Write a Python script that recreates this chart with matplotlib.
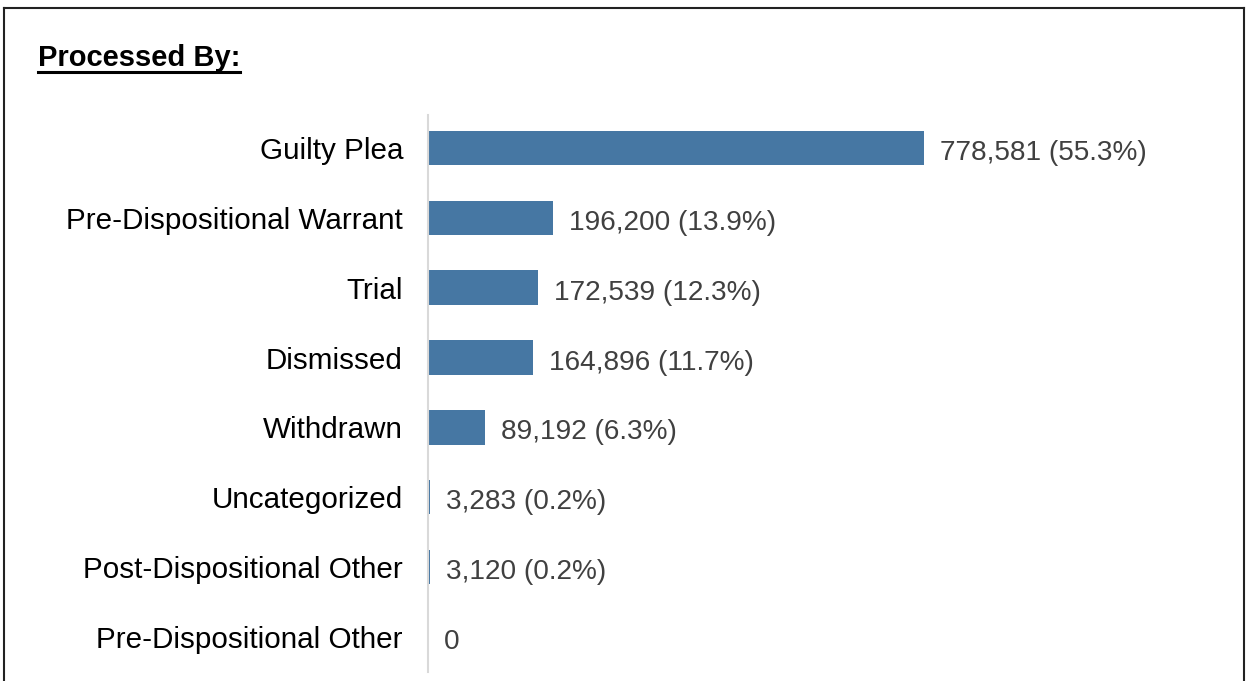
import matplotlib
matplotlib.use('Agg')
import matplotlib.pyplot as plt
from matplotlib.lines import Line2D

categories = ['Guilty Plea', 'Pre-Dispositional Warrant', 'Trial', 'Dismissed',
              'Withdrawn', 'Uncategorized', 'Post-Dispositional Other',
              'Pre-Dispositional Other']
counts = [778581, 196200, 172539, 164896, 89192, 3283, 3120, 0]
labels = ['778,581 (55.3%)', '196,200 (13.9%)', '172,539 (12.3%)', '164,896 (11.7%)',
          '89,192 (6.3%)', '3,283 (0.2%)', '3,120 (0.2%)', '0']

plt.rcParams['font.family'] = ['Liberation Sans', 'DejaVu Sans']

W, H = 1247, 681
fig = plt.figure(figsize=(W / 100, H / 100), dpi=100)

# outer frame (no bottom edge)
fig.add_artist(Line2D([4 / W, 4 / W], [0, 1 - 8 / H], color='#222222', lw=1.5))
fig.add_artist(Line2D([1244 / W, 1244 / W], [0, 1 - 8 / H], color='#222222', lw=1.5))
fig.add_artist(Line2D([4 / W, 1244 / W], [1 - 8 / H, 1 - 8 / H], color='#222222', lw=1.5))

ax = fig.add_axes([428 / W, 1 - 672 / H, (1230 - 428) / W, (672 - 115) / H])
y = range(len(categories))
ax.barh(y, counts, height=0.49, color='#4677A3')
ax.set_xlim(0, 778581 * (1230 - 428) / (924 - 428))
ax.set_ylim(7.5, -0.47)

for i, (v, t) in enumerate(zip(counts, labels)):
    ax.text(v + 16 * 1573, i + 0.03, t, va='center_baseline', ha='left', fontsize=20.2, color='#404040')

ax.set_yticks(list(y))
ax.set_yticklabels(categories, fontsize=21.3, color='black')
ax.tick_params(axis='y', length=0, pad=18)
ax.set_xticks([])
for s in ['top', 'right', 'bottom']:
    ax.spines[s].set_visible(False)
ax.spines['left'].set_color('#d9d9d9')
ax.spines['left'].set_linewidth(1.5)

title = fig.text(38 / W, 1 - 58 / H, 'Processed By:', fontsize=21, fontweight='bold',
                 va='center', ha='left')
fig.canvas.draw()
bb = title.get_window_extent()
uy = (H - 72) / H
fig.add_artist(Line2D([bb.x0 / W, bb.x1 / W], [uy, uy], color='black', lw=2.2))

fig.savefig('out.png', dpi=100)
